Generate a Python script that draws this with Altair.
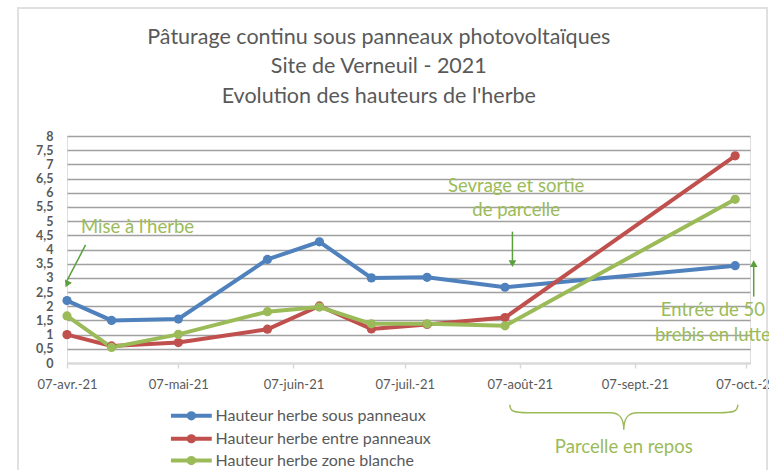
import altair as alt
import pandas as pd

# Measurement dates and grass heights (cm) for the three plots
dates = ["2021-04-07", "2021-04-19", "2021-05-07", "2021-05-31", "2021-06-14",
         "2021-06-28", "2021-07-13", "2021-08-03", "2021-10-04"]
sous_panneaux = [2.2, 1.5, 1.55, 3.65, 4.27, 3.0, 3.02, 2.67, 3.43]
entre_panneaux = [1.0, 0.6, 0.72, 1.19, 2.01, 1.2, 1.36, 1.6, 7.3]
zone_blanche = [1.66, 0.55, 1.01, 1.81, 1.97, 1.38, 1.38, 1.31, 5.77]

series_names = ["Hauteur herbe sous panneaux",
                "Hauteur herbe entre panneaux",
                "Hauteur herbe zone blanche"]
series_colors = ["#4f81bd", "#c0504d", "#9bbb59"]

title_lines = ["Pâturage continu sous panneaux photovoltaïques",
               "Site de Verneuil - 2021",
               "Evolution des hauteurs de l'herbe"]

rows = []
for name, vals in zip(series_names, [sous_panneaux, entre_panneaux, zone_blanche]):
    for d, v in zip(dates, vals):
        rows.append({"date": d, "hauteur": v, "serie": name})
df = pd.DataFrame(rows)

# Title lines, stacked above the plot in data space
titles = pd.DataFrame({
    "date": ["2021-06-30"] * 3,
    "hauteur": [11.45, 10.43, 9.37],
    "texte": title_lines,
})

# Legend rows below the date axis, in data space
legend_rows = pd.DataFrame({
    "serie": series_names,
    "hauteur": [-1.86, -2.67, -3.44],
    "debut": ["2021-05-05"] * 3,
    "fin": ["2021-05-16"] * 3,
    "milieu": ["2021-05-10T12:00:00Z"] * 3,
    "texte_x": ["2021-05-17"] * 3,
})

# Annotation texts placed in data space (date, height)
notes = pd.DataFrame({
    "date": ["2021-04-26", "2021-08-06", "2021-08-06", "2021-09-28", "2021-09-28", "2021-09-04"],
    "hauteur": [4.8, 6.24, 5.4, 1.87, 0.99, -2.95],
    "texte": ["Mise à l'herbe", "Sevrage et sortie", "de parcelle",
              "Entrée de 50", "brebis en lutte", "Parcelle en repos"],
})

# Arrows: shaft from (date, hauteur) to (date2, hauteur2), head at the end
arrows = pd.DataFrame({
    "date": ["2021-04-12", "2021-08-05", "2021-10-09"],
    "hauteur": [4.16, 4.63, 2.34],
    "date2": ["2021-04-07", "2021-08-05", "2021-10-09"],
    "hauteur2": [2.9, 3.6, 3.4],
    "tete": [2.78, 3.5, 3.5],
    "angle": [26, 0, 180],
})

brace = pd.DataFrame({"date": ["2021-09-04"], "hauteur": [-1.75]})

FONT = "Lato"
GREY = "#595959"
NOTE_GREEN = "#9bbb59"
ARROW_GREEN = "#5aa03c"

months = "['janv.','févr.','mars','avr.','mai','juin','juil.','août','sept.','oct.','nov.','déc.']"

x_ticks = [alt.DateTime(year=2021, month=m, date=7, utc=True) for m in range(4, 11)]

x_scale = alt.Scale(type="utc",
                    domain=[alt.DateTime(year=2021, month=4, date=7, utc=True),
                            alt.DateTime(year=2021, month=10, date=8, utc=True)])
y_scale = alt.Scale(domain=[0, 8], nice=False)
c_scale = alt.Scale(domain=series_names, range=series_colors)

x_axis = alt.Axis(values=x_ticks, title=None, grid=False,
                  labelExpr="'07-' + " + months + "[utcmonth(datum.value)] + '-21'",
                  labelFont=FONT, labelFontSize=13, labelColor=GREY,
                  domainColor="#d9d9d9", domainWidth=1.5, tickColor="#d9d9d9",
                  tickSize=5, tickWidth=1.5, labelPadding=10, labelFlush=False,
                  labelOverlap=False)
y_axis = alt.Axis(values=[i * 0.5 for i in range(17)], title=None, domain=False, ticks=False,
                  labelExpr="replace(format(datum.value, '.1~f'), '.', ',')",
                  labelFont=FONT, labelFontSize=12.5, labelFontWeight="bold", labelColor=GREY,
                  labelPadding=14, labelOverlap=False,
                  gridColor="#a0a0a0", gridWidth=1.3)

color = alt.Color("serie:N", scale=c_scale, legend=None)


def xdate(field):
    return alt.X(f"{field}:T", scale=x_scale, axis=x_axis)


xa = xdate("date")
ya = alt.Y("hauteur:Q", scale=y_scale, axis=y_axis)

base = alt.Chart(df).encode(x=xa, y=ya, color=color)

lines = base.mark_line(strokeWidth=4)
points = base.mark_point(filled=True, size=85, opacity=1)

# Hand-built legend: short line, marker and label for each series
leg = alt.Chart(legend_rows)
leg_lines = leg.mark_rule(strokeWidth=4).encode(
    x=xdate("debut"), x2="fin:T", y=ya, color=color)
leg_points = leg.mark_point(filled=True, size=85, opacity=1).encode(
    x=xdate("milieu"), y=ya, color=color)
leg_text = leg.mark_text(font=FONT, fontSize=16, color=GREY, align="left",
                         baseline="middle").encode(x=xdate("texte_x"), y=ya, text="serie:N")

title_text = alt.Chart(titles).mark_text(font=FONT, fontSize=21.5, color=GREY,
                                         baseline="middle").encode(x=xa, y=ya, text="texte:N")

note_text = alt.Chart(notes).mark_text(font=FONT, fontSize=18.5, color=NOTE_GREEN,
                                       baseline="middle").encode(x=xa, y=ya, text="texte:N")

shafts = alt.Chart(arrows).mark_rule(color=ARROW_GREEN, strokeWidth=1.5).encode(
    x=xa, y=ya, x2="date2:T", y2="hauteur2:Q")
heads = alt.Chart(arrows).mark_point(shape="triangle-down", filled=True, size=60,
                                     color=ARROW_GREEN, opacity=1).encode(
    x=xdate("date2"),
    y=alt.Y("tete:Q", scale=y_scale, axis=y_axis),
    angle=alt.Angle("angle:Q", scale=None))

brace_mark = alt.Chart(brace).mark_point(
    shape="M -1 -0.07 C -1 -0.01 -0.96 0 -0.84 0 L -0.12 0 C -0.04 0 0 0.04 0 0.15 "
          "C 0 0.04 0.04 0 0.12 0 L 0.84 0 C 0.96 0 1 -0.01 1 -0.07",
    filled=False, size=51984, color=NOTE_GREEN, strokeWidth=1.5, opacity=1).encode(x=xa, y=ya)

frame = alt.Chart(brace).mark_rect(fill=None, stroke="#e0e0e0", strokeWidth=2).encode(
    x=alt.value(-49), x2=alt.value(700), y=alt.value(-128), y2=alt.value(400))

chart = alt.layer(frame, lines, points, leg_lines, leg_points, leg_text,
                  shafts, heads, title_text, note_text, brace_mark).properties(
    width=683, height=227,
    autosize=alt.AutoSizeParams(type="none"),
    padding={"left": 67, "top": 136, "right": 19, "bottom": 107},
).configure_view(strokeWidth=0).configure(background="white")

chart.save("out.html", embed_options={"renderer": "svg", "actions": False})
